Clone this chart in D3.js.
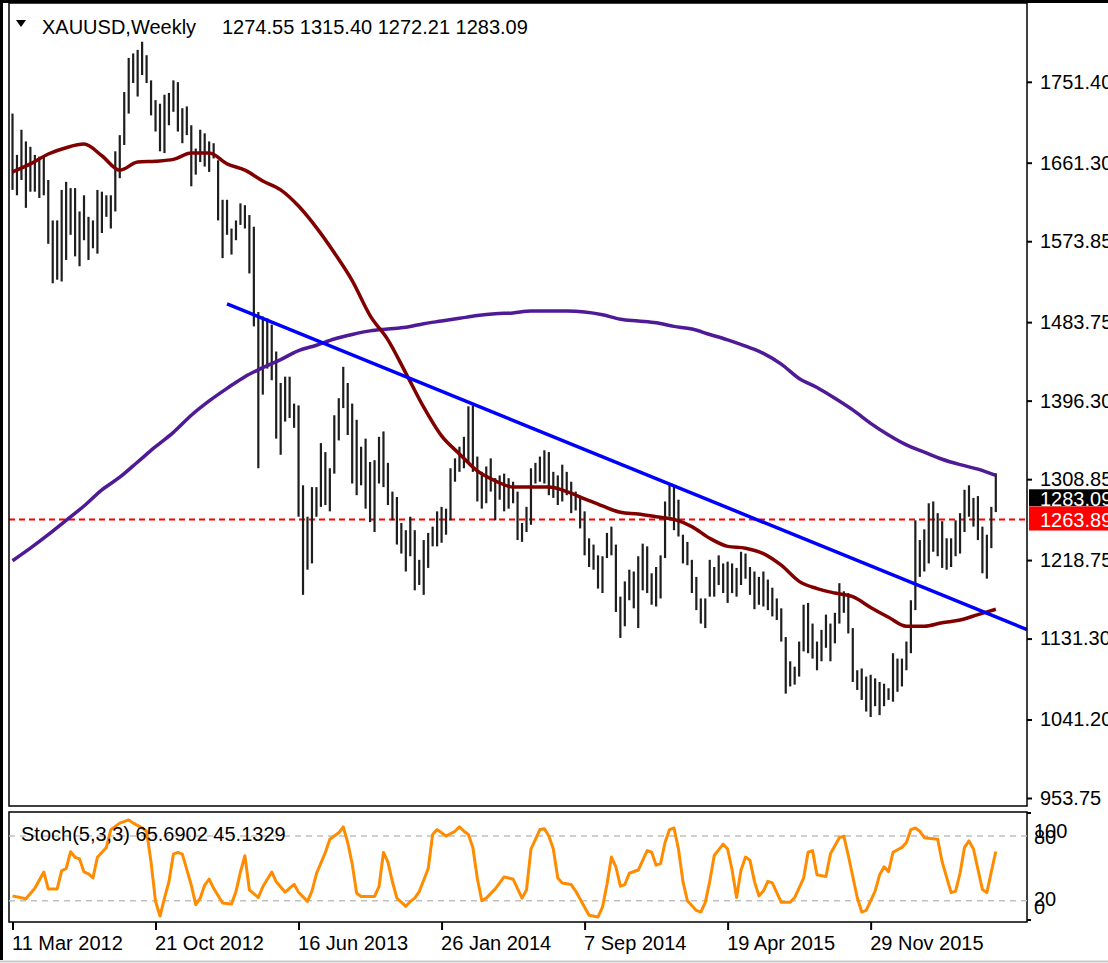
<!DOCTYPE html>
<html>
<head>
<meta charset="utf-8">
<script src="https://cdn.jsdelivr.net/npm/d3@7"></script>
<style>
body { margin: 0; background: #fff; }
svg text { font-family: "Liberation Sans", Arial, sans-serif; font-size: 20px; fill: #000; }
</style>
</head>
<body>
<div id="chart"></div>
<script>
/* XAUUSD weekly bars, 11 Mar 2012 .. 12 Jun 2016 (bar index 0..220) */
var highs = [1716,1670,1698,1685,1679,1670,1668,1668,1642,1597,1597,1631,1640,1633,1633,1607,1625,1601,1597,1631,
  1629,1625,1625,1674,1692,1740,1778,1783,1787,1796,1781,1753,1731,1727,1737,1739,1753,1751,1722,1724,
  1703,1677,1698,1694,1685,1683,1664,1620,1620,1588,1597,1616,1614,1603,1590,1495,1490,1488,1481,1451,
  1416,1423,1423,1393,1391,1302,1267,1300,1300,1349,1339,1321,1380,1399,1434,1416,1393,1375,1345,1354,
  1328,1330,1356,1362,1327,1295,1289,1260,1252,1267,1252,1219,1241,1249,1256,1273,1278,1276,1321,1332,
  1345,1356,1390,1391,1334,1317,1323,1332,1310,1313,1315,1310,1306,1295,1260,1278,1321,1327,1334,1341,
  1339,1317,1313,1325,1317,1306,1295,1288,1273,1243,1236,1224,1223,1249,1256,1236,1178,1195,1208,1206,
  1223,1237,1234,1204,1211,1224,1284,1304,1302,1286,1247,1239,1219,1200,1176,1176,1219,1211,1224,1215,
  1217,1215,1210,1228,1226,1211,1206,1200,1206,1197,1188,1176,1165,1133,1106,1100,1128,1169,1171,1148,
  1128,1141,1158,1148,1160,1193,1184,1182,1143,1096,1098,1089,1091,1087,1083,1081,1076,1115,1109,1109,
  1128,1174,1263,1241,1253,1282,1284,1271,1262,1243,1243,1263,1271,1297,1302,1288,1290,1256,1247,1278,
  1315.40];
var lows = [1631,1625,1642,1611,1629,1629,1622,1625,1571,1527,1531,1529,1553,1581,1557,1546,1575,1553,1566,1560,
  1583,1601,1588,1607,1644,1681,1716,1750,1735,1759,1750,1714,1696,1674,1672,1703,1718,1696,1683,1692,
  1635,1648,1662,1657,1651,1666,1597,1555,1581,1559,1575,1592,1588,1538,1479,1321,1403,1432,1419,1354,
  1336,1373,1377,1366,1267,1180,1208,1215,1267,1278,1280,1273,1315,1352,1388,1358,1304,1291,1302,1276,
  1261,1250,1304,1300,1280,1263,1236,1226,1206,1223,1185,1191,1180,1210,1234,1234,1238,1247,1263,1306,
  1317,1321,1327,1317,1284,1276,1282,1295,1263,1286,1273,1276,1282,1241,1239,1250,1258,1304,1306,1304,
  1291,1288,1280,1284,1291,1271,1274,1254,1224,1211,1208,1187,1182,1221,1224,1161,1132,1145,1174,1165,
  1143,1185,1182,1169,1167,1176,1221,1267,1252,1245,1215,1213,1182,1163,1148,1143,1178,1178,1191,1182,
  1171,1182,1178,1191,1198,1180,1164,1169,1167,1163,1156,1152,1128,1070,1078,1080,1089,1117,1115,1109,
  1096,1106,1121,1106,1126,1148,1160,1137,1083,1074,1063,1050,1044,1056,1046,1056,1063,1061,1072,1078,
  1096,1115,1163,1200,1206,1215,1228,1223,1210,1208,1211,1223,1226,1250,1267,1256,1241,1204,1198,1232,
  1272.21];

/* moving averages, read every 4th bar */
var maIdx = d3.range(0, 221, 4);
var maRed = [1651,1660,1671,1678,1682,1669,1653,1662,1663,1665,1672,1672,1660,1653,1641,1631,1613,1589,1561,1530,
  1491,1464,1427,1389,1357,1337,1318,1307,1300,1300,1300,1295,1287,1279,1272,1270,1267,1264,1256,1243,
  1234,1232,1226,1213,1195,1187,1182,1178,1166,1155,1145,1145,1149,1152,1158,1164];
var maPurple = [1218,1232,1247,1263,1279,1297,1311,1328,1345,1361,1380,1396,1410,1423,1433,1442,1452,1458,1465,1470,
  1474,1476,1478,1482,1485,1488,1491,1493,1494,1496,1496,1496,1495,1492,1487,1485,1483,1479,1476,1470,
  1464,1457,1449,1437,1421,1411,1399,1386,1371,1358,1347,1339,1331,1325,1320,1313];

/* trend line anchors */
var trendIdx = [48, 200];
var trendVal = [1504, 1196];
var lastClose = 1283.09, bidLine = 1263.89;

/* stochastic main line (bar index, value) */
var stochIdx = [0,3,5,7,8,10,11,12,13,14,15,16,17,18,19,21,22,24,26,27,29,30,31,32,33,34,35,36,37,38,
  40,41,42,43,44,45,47,49,50,51,52,53,55,56,58,59,61,63,64,66,67,68,70,71,73,74,75,76,77,78,
  81,82,83,84,85,86,88,89,90,91,93,94,95,96,97,99,100,101,102,103,104,105,106,108,110,112,114,115,116,118,
  119,120,121,122,123,125,126,128,129,131,132,133,134,135,136,137,138,140,141,142,143,144,145,146,147,148,149,150,151,153,
  154,155,156,157,159,160,161,162,163,164,165,166,167,168,169,170,172,174,175,177,178,179,180,182,183,185,186,187,189,190,
  191,193,194,195,196,197,199,200,201,202,203,204,207,208,210,211,212,213,214,215,217,218,219,220];
var stochVal = [24.5,21.8,31.5,46.7,31,31,48,49.7,65.5,60.3,58.8,46.7,45,41.2,60.3,69.4,86,92,95,92,87.6,84.5,55.8,19.4,5.8,22.4,37.6,63.3,64.8,63.3,
  34.5,16.4,22.4,34.5,40,31.5,17.9,17,28.5,46.7,61.8,30,23,33,46.7,37.6,27.9,35.2,27.9,19.4,29,45,64.8,77,83,88.5,74,54.2,27,24,
  24,33,64.8,55.8,37.6,22.4,14.8,19.4,22.4,28.5,49.7,81.5,86,83,80,84.5,88.5,84.5,81.5,69.4,40.6,20,22.4,31,42.1,40,22.4,30,67.9,86,
  86.7,80,68,41,36.5,35,29,14,6.5,5,14,35,60.5,51.5,33.5,35,45.5,48.5,57.5,66.5,65,53,54.5,74,86,87.5,68,38,20,11,
  9.5,18.5,38,62,72.5,68,48.5,23,48.5,60.5,57.5,38,24.5,29,38,36.5,18.5,18.5,23,41,65,66.5,44,42.5,63.5,78.5,80,62,23,9.5,
  11,29,44,51.5,47,65,69.5,74,86,87.5,84.5,78.5,77,56,27.5,29,45.5,69.5,75.5,68,30.5,27.5,47,65.69];

var priceTicks = [953.75,1041.20,1131.30,1218.75,1308.85,1396.30,1483.75,1573.85,1661.30,1751.40];
var dateTickIdx = [0,32,64,96,128,160,192];
var dateTickLabels = ["11 Mar 2012","21 Oct 2012","16 Jun 2013","26 Jan 2014","7 Sep 2014","19 Apr 2015","29 Nov 2015"];

/* SVG */
var width = 1108, height = 963;
var svg = d3.select("#chart").append("svg")
    .attr("width", width)
    .attr("height", height);

var left = 9, right = 1027, mainTop = 3, mainBottom = 806, stTop = 812, stBottom = 922;

var x = d3.scaleLinear().domain([0, 220]).range([12.5, 995.8]);
var y = d3.scaleLinear().domain([953.75, 1751.40]).range([798, 81.8]);
var ys = d3.scaleLinear().domain([0, 100]).range([922.3, 814.5]);

svg.append("clipPath").attr("id", "clipMain")
    .append("rect").attr("x", left).attr("y", mainTop).attr("width", right - left).attr("height", mainBottom - mainTop);
svg.append("clipPath").attr("id", "clipSt")
    .append("rect").attr("x", left).attr("y", stTop).attr("width", right - left).attr("height", stBottom - stTop);

/* outer frame */
svg.append("line").attr("x1", 1.5).attr("x2", 1.5).attr("y1", 0).attr("y2", 960)
    .attr("stroke", "#000").attr("stroke-width", 3);
svg.append("line").attr("x1", 0).attr("x2", width).attr("y1", 1.5).attr("y2", 1.5)
    .attr("stroke", "#000").attr("stroke-width", 3);
svg.append("line").attr("x1", 0).attr("x2", width).attr("y1", 961.5).attr("y2", 961.5)
    .attr("stroke", "#c8c8c8").attr("stroke-width", 2);

var gMain = svg.append("g").attr("clip-path", "url(#clipMain)");

/* red bid line */
gMain.append("line")
    .attr("x1", left).attr("x2", right)
    .attr("y1", y(bidLine)).attr("y2", y(bidLine))
    .attr("stroke", "#ff0000").attr("stroke-width", 2)
    .attr("stroke-dasharray", "6,4");

/* bars */
gMain.selectAll("line.bar")
    .data(highs)
    .enter()
    .append("line")
        .attr("class", "bar")
        .attr("x1", function(d, i) { return x(i); })
        .attr("x2", function(d, i) { return x(i); })
        .attr("y1", function(d) { return y(d); })
        .attr("y2", function(d, i) { return y(lows[i]); })
        .attr("stroke", "#1e1e1e")
        .attr("stroke-width", 2.2);

/* moving averages */
var maLine = d3.line()
    .x(function(d, i) { return x(maIdx[i]); })
    .y(function(d) { return y(d); })
    .curve(d3.curveMonotoneX);

gMain.append("path").datum(maPurple)
    .attr("d", maLine)
    .attr("fill", "none").attr("stroke", "#4f1a96").attr("stroke-width", 3.5);

gMain.append("path").datum(maRed)
    .attr("d", maLine)
    .attr("fill", "none").attr("stroke", "#800000").attr("stroke-width", 3.5);

/* trend line, extended to the right edge */
var slope = (trendVal[1] - trendVal[0]) / (trendIdx[1] - trendIdx[0]);
var endIdx = x.invert(right);
gMain.append("line")
    .attr("x1", x(trendIdx[0])).attr("y1", y(trendVal[0]))
    .attr("x2", x(endIdx)).attr("y2", y(trendVal[0] + slope * (endIdx - trendIdx[0])))
    .attr("stroke", "#0000ff").attr("stroke-width", 3.5);

/* panel borders */
svg.append("rect")
    .attr("x", left).attr("y", mainTop).attr("width", right - left).attr("height", mainBottom - mainTop)
    .attr("fill", "none").attr("stroke", "#000").attr("stroke-width", 1.5);
svg.append("rect")
    .attr("x", left).attr("y", stTop).attr("width", right - left).attr("height", stBottom - stTop)
    .attr("fill", "none").attr("stroke", "#000").attr("stroke-width", 1.5);

/* price axis */
var yAxis = d3.axisRight(y)
    .tickValues(priceTicks)
    .tickFormat(d3.format(".2f"))
    .tickSize(5)
    .tickPadding(8);
var gy = svg.append("g").attr("transform", "translate(" + right + ",0)").call(yAxis);
gy.select(".domain").remove();
gy.selectAll("line").attr("stroke", "#000").attr("stroke-width", 2);
gy.selectAll("text").attr("font-size", null).attr("font-family", null).attr("fill", "#000");

/* price labels on the scale */
svg.append("rect").attr("x", 1029).attr("y", y(lastClose) - 13).attr("width", 80).attr("height", 17).attr("fill", "#000");
svg.append("text").attr("x", 1040).attr("y", y(lastClose) + 4).style("fill", "#fff").text(lastClose.toFixed(2));
svg.append("rect").attr("x", 1029).attr("y", y(bidLine) - 13).attr("width", 80).attr("height", 24).attr("fill", "#ff0000");
svg.append("text").attr("x", 1040).attr("y", y(bidLine) + 7).style("fill", "#fff").text(bidLine.toFixed(2));

/* header */
svg.append("path").attr("d", "M16,20 L26,20 L21,27 Z").attr("fill", "#000");
svg.append("text").attr("x", 42).attr("y", 34).text("XAUUSD,Weekly");
svg.append("text").attr("x", 222).attr("y", 34).text("1274.55 1315.40 1272.21 1283.09");

/* stochastic */
var gSt = svg.append("g").attr("clip-path", "url(#clipSt)");
[80, 20].forEach(function(lv) {
    gSt.append("line")
        .attr("x1", left).attr("x2", right)
        .attr("y1", ys(lv)).attr("y2", ys(lv))
        .attr("stroke", "#c0c0c0").attr("stroke-width", 1.5)
        .attr("stroke-dasharray", "6,5");
});
var stLine = d3.line()
    .x(function(d, i) { return x(stochIdx[i]); })
    .y(function(d) { return ys(d); });
gSt.append("path").datum(stochVal)
    .attr("d", stLine)
    .attr("fill", "none").attr("stroke", "#ff8c00").attr("stroke-width", 3)
    .attr("stroke-linejoin", "round");

svg.append("text").attr("x", 21).attr("y", 841).text("Stoch(5,3,3) 65.6902 45.1329");

/* stochastic scale */
svg.append("line").attr("x1", right).attr("x2", 1031).attr("y1", 813).attr("y2", 813).attr("stroke", "#000").attr("stroke-width", 2);
svg.append("line").attr("x1", right).attr("x2", 1031).attr("y1", 920).attr("y2", 920).attr("stroke", "#000").attr("stroke-width", 2);
var stLabels = [["100", 838], ["80", 844], ["20", 906], ["0", 914]];
stLabels.forEach(function(s) {
    svg.append("text").attr("x", 1034).attr("y", s[1]).text(s[0]);
});

/* time axis */
var xAxis = d3.axisBottom(x)
    .tickValues(dateTickIdx)
    .tickFormat(function(d, i) { return dateTickLabels[i]; })
    .tickSize(8)
    .tickPadding(6);
var gx = svg.append("g").attr("transform", "translate(0," + stBottom + ")").call(xAxis);
gx.select(".domain").remove();
gx.selectAll("line").attr("stroke", "#000").attr("stroke-width", 2);
gx.selectAll("text")
    .attr("font-size", null).attr("font-family", null).attr("fill", "#000")
    .attr("text-anchor", "start").attr("dx", -1).attr("dy", "0.71em");
</script>
</body>
</html>
